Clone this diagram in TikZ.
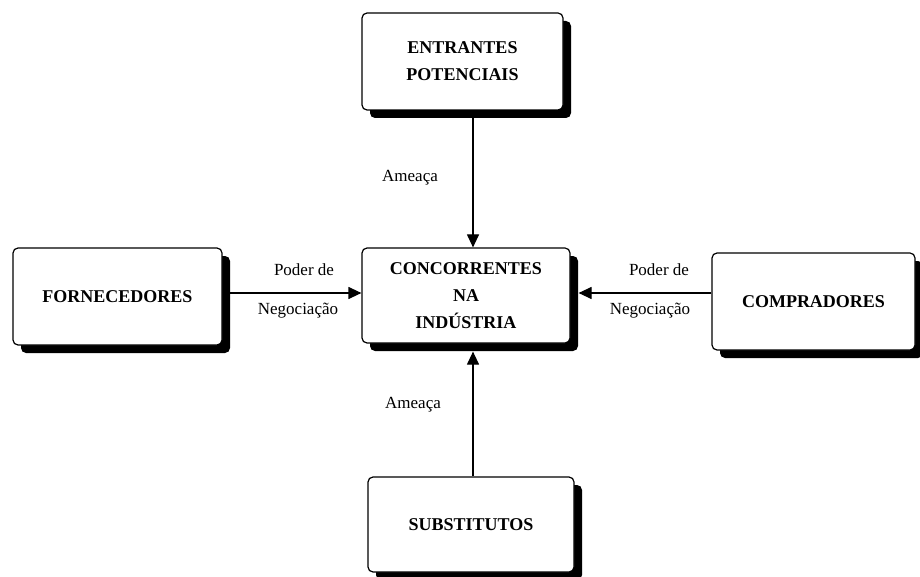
\documentclass[tikz,border=0pt]{standalone}
\usepackage{fontspec}
\setmainfont{Liberation Serif}
\usetikzlibrary{arrows.meta,shadows}
\tikzset{
  force/.style={draw=black, line width=1.2pt, fill=white, rounded corners=5pt,
    align=center, inner sep=0pt,
    font=\fontsize{18}{27}\selectfont\bfseries,
    drop shadow={shadow xshift=8pt, shadow yshift=-8pt, fill=black, opacity=1}},
  arr/.style={line width=1.2pt, -{Triangle[length=13pt,width=12pt]}},
  lbl/.style={font=\fontsize{17}{19}\selectfont, inner sep=0pt}
}
\begin{document}
\begin{tikzpicture}[x=1pt,y=-1pt]
\useasboundingbox (0,0) rectangle (920,577);
\node[force, minimum width=201pt, minimum height=97pt] (top) at (462.5,61.5) {ENTRANTES\\POTENCIAIS};
\node[force, minimum width=209pt, minimum height=97pt] (left) at (117.5,296.5) {FORNECEDORES};
\node[force, minimum width=208pt, minimum height=95pt] (center) at (466,295.5) {CONCORRENTES\\NA\\INDÚSTRIA};
\node[force, minimum width=203pt, minimum height=97pt] (right) at (813.5,301.5) {COMPRADORES};
\node[force, minimum width=206pt, minimum height=95pt] (bottom) at (471,524.5) {SUBSTITUTOS};
\coordinate (ax) at (473,0);
\coordinate (ay) at (0,293);
\draw[arr] (top.south -| ax) -- (center.north -| ax);
\draw[arr] (bottom.north -| ax) -- ([yshift=-8pt]center.south -| ax);
\draw[arr] (left.east |- ay) -- (center.west |- ay);
\draw[arr] (right.west |- ay) -- ([xshift=8pt]center.east |- ay);
\node[lbl] (l1) at (410,178) {Ameaça};
\node[lbl] (l2) at (413,405) {Ameaça};
\node[lbl] (l3) at (304,270) {Poder de};
\node[lbl] (l4) at (298,311) {Negociação};
\node[lbl] (l5) at (659,270) {Poder de};
\node[lbl] (l6) at (650,311) {Negociação};
\end{tikzpicture}
\end{document}
